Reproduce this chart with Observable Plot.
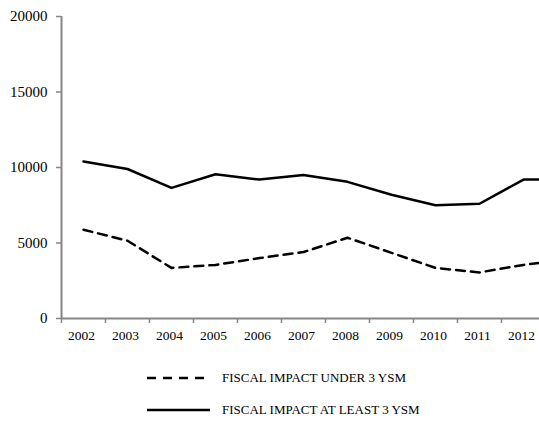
<!DOCTYPE html>
<html>
<head>
<meta charset="utf-8">
<script src="https://cdn.jsdelivr.net/npm/d3@7"></script>
<script src="https://cdn.jsdelivr.net/npm/@observablehq/plot@0.6"></script>
<style>
  html, body { margin: 0; padding: 0; background: #fff; }
  #wrap { position: relative; width: 539px; height: 423px; overflow: hidden; background: #fff; font-family: "Liberation Serif", "Times New Roman", serif; }
  #chart { position: absolute; left: 0; top: 0; width: 620px; }
  #chart svg { max-width: none !important; font-family: "Liberation Serif", "Times New Roman", serif !important; }
  #chart svg text { font-family: "Liberation Serif", "Times New Roman", serif; }
  .leg { position: absolute; left: 147px; height: 20px; display: flex; align-items: center; font-size: 13px; color: #000; white-space: nowrap; }
  .leg svg { margin-right: 11px; }
</style>
</head>
<body>
<div id="wrap">
  <div id="chart"></div>
  <div id="legend"></div>
</div>
<script>
const years = [2002, 2003, 2004, 2005, 2006, 2007, 2008, 2009, 2010, 2011, 2012, 2013];
const under3 = [5880, 5150, 3350, 3550, 4000, 4400, 5350, 4350, 3350, 3050, 3550, 3900];
const atLeast3 = [10400, 9900, 8650, 9550, 9200, 9500, 9050, 8200, 7500, 7600, 9200, 9200];
const yearLabels = [2002, 2003, 2004, 2005, 2006, 2007, 2008, 2009, 2010, 2011, 2012];
const yTicks = [0, 5000, 10000, 15000, 20000];
const seriesNames = ["FISCAL IMPACT UNDER 3 YSM", "FISCAL IMPACT AT LEAST 3 YSM"];

const rowsUnder = years.map((y, i) => ({year: y, value: under3[i]}));
const rowsAtLeast = years.map((y, i) => ({year: y, value: atLeast3[i]}));
const bounds = years.map(y => y - 0.5).concat([years[years.length - 1] + 0.5]);

const axisGray = "#868686";
const font = "'Liberation Serif', 'Times New Roman', serif";

const chart = Plot.plot({
  width: 620,
  height: 345,
  marginLeft: 61,
  marginRight: 31,
  marginTop: 16,
  marginBottom: 27,
  style: {fontFamily: font, background: "white", overflow: "visible", maxWidth: "none"},
  x: {domain: [bounds[0], bounds[bounds.length - 1]], axis: null},
  y: {domain: [0, 20000], axis: null},
  marks: [
    Plot.axisY({ticks: yTicks, tickSize: 5, tickPadding: 9, tickFormat: d => String(d), fontSize: 15, fontFamily: font, color: "black", stroke: axisGray, strokeWidth: 1.5, label: null}),
    Plot.axisX({ticks: bounds, tickSize: 5, tickFormat: () => "", stroke: axisGray, strokeWidth: 1.5, label: null}),
    Plot.axisX({ticks: yearLabels, tickSize: 0, tickPadding: 12, dx: -2, tickFormat: d => String(d), fontSize: 13.5, fontFamily: font, color: "black", label: null}),
    Plot.ruleX([bounds[0]], {y1: 0, y2: 20000, stroke: axisGray, strokeWidth: 2}),
    Plot.ruleY([0], {stroke: axisGray, strokeWidth: 2}),
    Plot.line(rowsAtLeast, {x: "year", y: "value", stroke: "black", strokeWidth: 2.5, strokeLinejoin: "round"}),
    Plot.line(rowsUnder, {x: "year", y: "value", stroke: "black", strokeWidth: 2.5, strokeDasharray: "9,6", strokeLinejoin: "round"})
  ]
});
document.getElementById("chart").appendChild(chart);

const legend = document.getElementById("legend");
const legTops = [368, 400];
const dashes = ["9,7", null];
seriesNames.forEach((name, i) => {
  const d = document.createElement("div");
  d.className = "leg";
  d.style.top = legTops[i] + "px";
  const ns = "http://www.w3.org/2000/svg";
  const s = document.createElementNS(ns, "svg");
  s.setAttribute("width", 64); s.setAttribute("height", 6);
  const l = document.createElementNS(ns, "line");
  l.setAttribute("x1", 0); l.setAttribute("x2", 63); l.setAttribute("y1", 3); l.setAttribute("y2", 3);
  l.setAttribute("stroke", "black"); l.setAttribute("stroke-width", 2.5);
  if (dashes[i]) l.setAttribute("stroke-dasharray", dashes[i]);
  s.appendChild(l);
  d.appendChild(s);
  const t = document.createElement("span");
  t.textContent = name;
  d.appendChild(t);
  legend.appendChild(d);
});
</script>
</body>
</html>
